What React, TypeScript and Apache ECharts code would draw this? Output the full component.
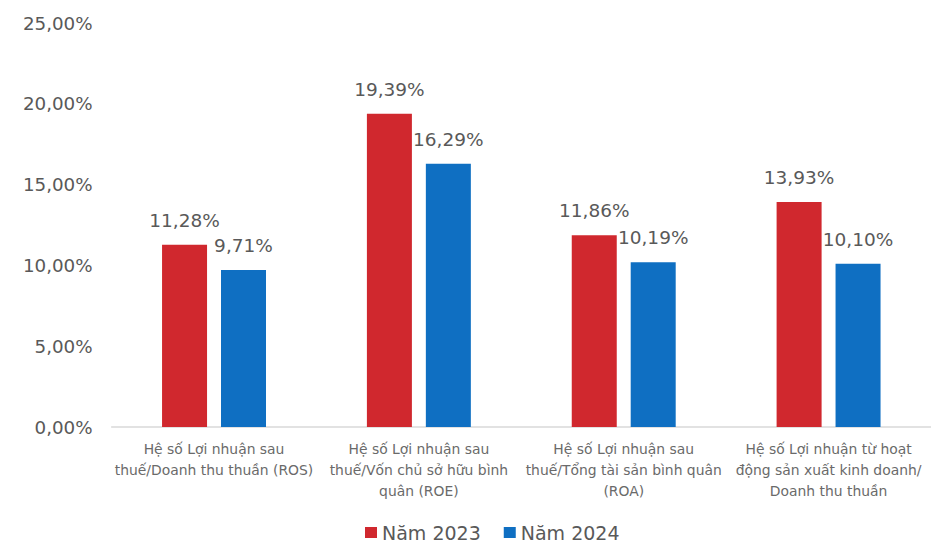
import React, { useEffect, useRef } from "react";
import * as echarts from "echarts";

const categories = [
  "Hệ số Lợi nhuận sau\nthuế/Doanh thu thuần (ROS)",
  "Hệ số Lợi nhuận sau\nthuế/Vốn chủ sở hữu bình\nquân (ROE)",
  "Hệ số Lợi nhuận sau\nthuế/Tổng tài sản bình quân\n(ROA)",
  "Hệ số Lợi nhuận từ hoạt\nđộng sản xuất kinh doanh/\nDoanh thu thuần",
];
const values2023 = [11.28, 19.39, 11.86, 13.93];
const values2024 = [9.71, 16.29, 10.19, 10.1];
const seriesNames = ["Năm 2023", "Năm 2024"];
const yTicks = { min: 0, max: 25, interval: 5 };

const RED = "#D0282E";
const BLUE = "#0F6FC2";
const GRAY = "#595959";

const fmt = (v: number) => v.toFixed(2).replace(".", ",") + "%";

export default function App() {
  const ref = useRef<HTMLDivElement>(null);
  useEffect(() => {
    document.body.style.margin = "0";
    const chart = echarts.init(ref.current!, null, { renderer: "svg" });
    const labelStyle = {
      show: true,
      position: "top" as const,
      distance: 15,
      color: GRAY,
      fontFamily: "DejaVu Sans",
      fontSize: 18.5,
      formatter: (p: any) => fmt(p.value),
    };
    chart.setOption({
      animation: false,
      backgroundColor: "#fff",
      grid: { left: 111.6, top: 23, width: 826.8, height: 404 },
      legend: {
        data: seriesNames,
        left: 365,
        top: 523,
        padding: 0,
        itemWidth: 12,
        itemHeight: 11,
        itemGap: 23,
        icon: "rect",
        textStyle: { color: GRAY, fontFamily: "DejaVu Sans", fontSize: 19, lineHeight: 19 },
      },
      xAxis: {
        type: "category",
        data: categories,
        axisLine: { lineStyle: { color: "#D9D9D9", width: 1.5 } },
        axisTick: { show: false },
        axisLabel: {
          interval: 0,
          color: "#6a6a6a",
          fontFamily: "DejaVu Sans",
          fontSize: 13.9,
          lineHeight: 20.8,
          margin: 12,
        },
      },
      yAxis: {
        type: "value",
        min: yTicks.min,
        max: yTicks.max,
        interval: yTicks.interval,
        splitLine: { show: false },
        axisLine: { show: false },
        axisTick: { show: false },
        axisLabel: {
          color: GRAY,
          fontFamily: "DejaVu Sans",
          fontSize: 18.3,
          margin: 19,
          formatter: (v: number) => fmt(v),
        },
      },
      series: [
        {
          name: seriesNames[0],
          type: "bar",
          data: values2023,
          barWidth: 45,
          barGap: "31%",
          itemStyle: { color: RED },
          label: labelStyle,
        },
        {
          name: seriesNames[1],
          type: "bar",
          data: values2024,
          barWidth: 45,
          barGap: "31%",
          itemStyle: { color: BLUE },
          label: labelStyle,
        },
      ],
    });
    return () => chart.dispose();
  }, []);
  return <div ref={ref} style={{ width: 931, height: 542 }} />;
}
